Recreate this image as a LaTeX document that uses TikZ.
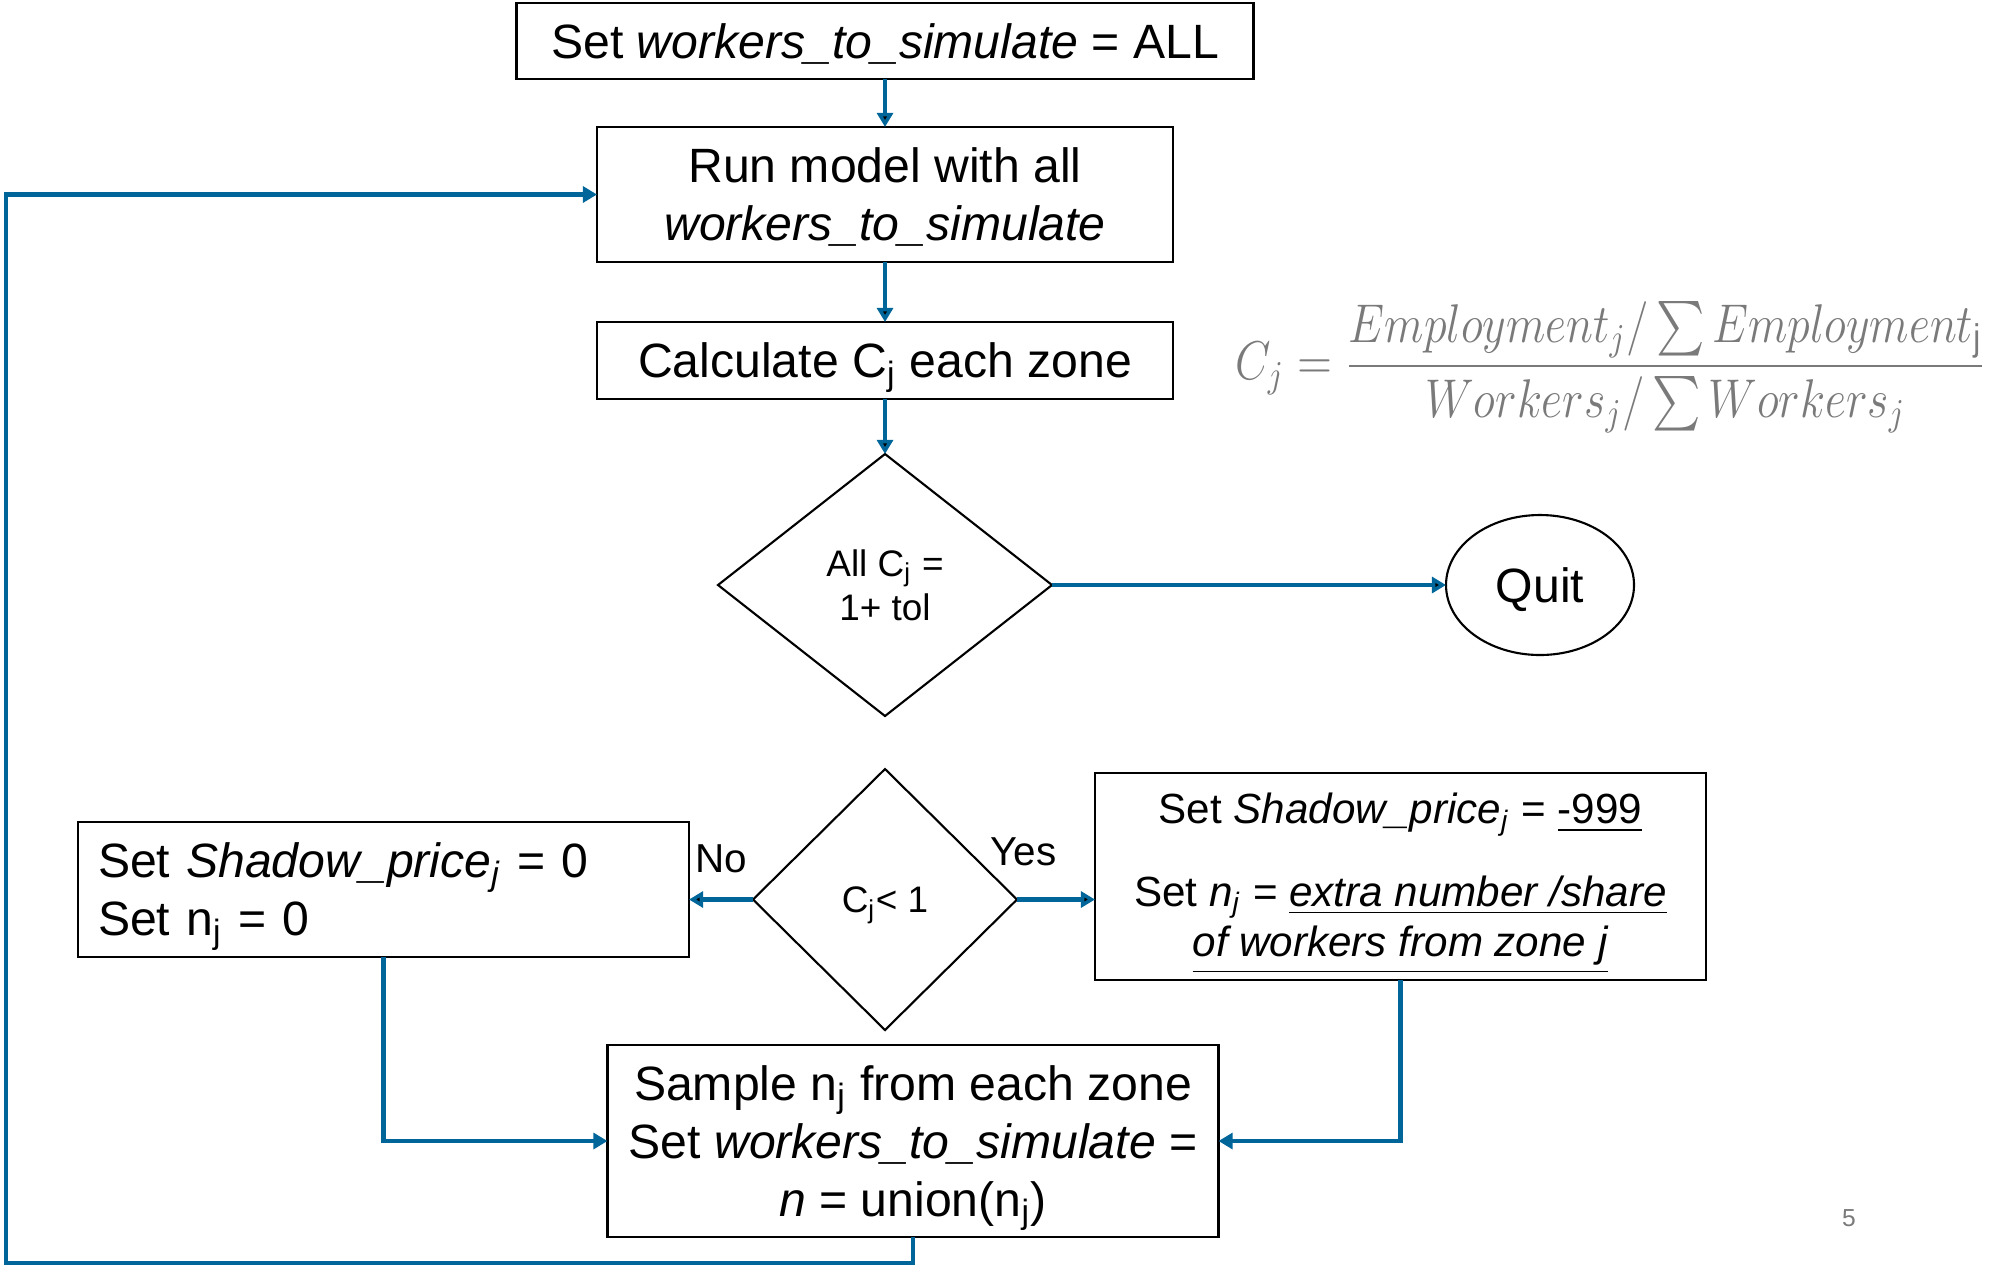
\documentclass[tikz,border=0pt]{standalone}
\usepackage{amsmath}
\usepackage{graphicx}
\usepackage{fontspec}
\setmainfont{Liberation Sans}
\usetikzlibrary{arrows.meta, positioning, shapes.geometric}

\definecolor{flowblue}{RGB}{0,102,153}
\definecolor{formgray}{RGB}{122,122,122}
\newcommand{\topstrut}{\rule{0pt}{1.066em}}
\newcommand{\botstrut}{\rule[-0.35em]{0pt}{0.35em}}

\begin{document}
\begin{tikzpicture}[
	box/.style		={draw, line width=0.6pt, inner sep=0pt, outer sep=0pt, align=center, font=\fontsize{13.7}{16.5}\selectfont},
	choice/.style	={draw, diamond, line width=0.6pt, inner sep=0pt, outer sep=0pt, align=center, font=\fontsize{10.5}{12.6}\selectfont},
	flow/.style		={draw=flowblue, line width=1.3pt, -{Triangle[length=4pt, width=4.5pt]}},
	tag/.style		={font=\fontsize{11.5}{13}\selectfont},
]
	\useasboundingbox (0,0) rectangle (19.93,-12.67);

	\node[box, minimum width=7.37cm, minimum height=0.76cm] 	(A) at (8.85,-0.41) 			{\topstrut Set \textit{workers\_to\_simulate} = ALL\botstrut};
	\node[box, minimum width=5.76cm, minimum height=1.35cm] 	(B) [below		=0.48cm of A] 	{\topstrut Run model with all\\ \textit{workers\_to\_simulate}\botstrut};
	\node[box, minimum width=5.76cm, minimum height=0.77cm] 	(C) [below		=0.60cm of B] 	{\topstrut Calculate C\textsubscript{j} each zone\botstrut};
	\node[choice, minimum width=3.34cm, minimum height=2.62cm]	(D) [below		=0.55cm of C] 	{All C\textsubscript{j} =\\ 1+ tol};
	\node[box, ellipse, minimum width=1.88cm, minimum height=1.40cm] (E) [right	=3.94cm of D] 	{\topstrut Quit\botstrut};
	\node[choice, minimum width=2.64cm, minimum height=2.61cm]	(F) [below		=0.53cm of D] 	{\topstrut C\textsubscript{j}< 1\botstrut};

	\node[box, minimum width=6.11cm, minimum height=1.35cm, text width=5.71cm, align=left]
															(G) [left=0.64cm of F, yshift=0.1cm]	{\topstrut Set \textit{Shadow\_price}\textsubscript{\textit{j}} = 0\\ Set n\textsubscript{j} = 0\botstrut};
	\node[box, minimum width=6.11cm, minimum height=2.07cm, font=\fontsize{12}{14.4}\selectfont]
															(H) [right=0.78cm of F, yshift=0.23cm]	{\topstrut Set \textit{Shadow\_price}\textsubscript{\textit{j}} = \underline{-999}\\[9pt]
																									 Set \textit{n}\textsubscript{\textit{j}} = \underline{\textit{extra number /share}}\\
																									 \underline{\textit{of workers from zone j}}\botstrut};
	\node[box, minimum width=6.11cm, minimum height=1.92cm]	(I) [below=0.15cm of F, xshift=0.28cm]	{\topstrut Sample n\textsubscript{j} from each zone\\ Set \textit{workers\_to\_simulate} =\\ \textit{n} = union(n\textsubscript{j})\botstrut};

	\node[text=formgray, inner sep=0pt, font=\fontsize{14}{17}\selectfont]
															(J) [right=0.62cm of C, yshift=-0.067cm]	{\resizebox*{7.5cm}{1.31cm}{$C_j=\dfrac{Employment_j/\sum Employment_\mathrm{j}}{Workers_j/\sum Workers_j}$}};
	\node[text=formgray, font=\fontsize{7}{8}\selectfont]	(K) at (18.49,-12.18)			{5};

	\coordinate (L) at (0.06,-12.63);

	\path[flow]
	(A) edge 																			(B)
	(B) edge 																			(C)
	(C) edge 																			(D)
	(D) edge 																			(E)
	(F) edge 									node[tag, above=3.5pt] 			{No}	(F.west -| G.east)
		edge 									node[tag, pos=0.08, above=5.5pt] 	{Yes}	(F.east -| H.west)
	;

	\draw[flow] (G.south) |- (I.west);
	\draw[flow] (H.south) |- (I.east);
	\draw[flow] (I.south) |- (L) |- (B.west);
\end{tikzpicture}
\end{document}
